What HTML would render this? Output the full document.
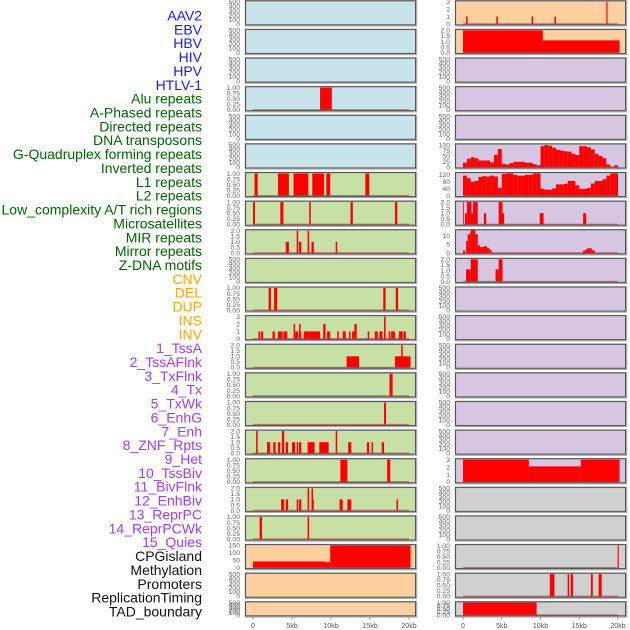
<!DOCTYPE html>
<html><head><meta charset="utf-8">
<style>
html,body{margin:0;padding:0;background:#fff;}
#wrap{position:relative;width:630px;height:630px;overflow:hidden;}
svg{position:absolute;left:0;top:0;}
text{font-family:"Liberation Sans",sans-serif;}
</style></head>
<body>
<div id="wrap">
<svg id="chart" width="630" height="630" viewBox="0 0 630 630"></svg>
</div>
<script>
// ---------- data ----------
const trackLabels = ["AAV2","EBV","HBV","HIV","HPV","HTLV-1","Alu repeats","A-Phased repeats","Directed repeats","DNA transposons","G-Quadruplex forming repeats","Inverted repeats","L1 repeats","L2 repeats","Low_complexity A/T rich regions","Microsatellites","MIR repeats","Mirror repeats","Z-DNA motifs","CNV","DEL","DUP","INS","INV","1_TssA","2_TssAFlnk","3_TxFlnk","4_Tx","5_TxWk","6_EnhG","7_Enh","8_ZNF_Rpts","9_Het","10_TssBiv","11_BivFlnk","12_EnhBiv","13_ReprPC","14_ReprPCWk","15_Quies","CPGisland","Methylation","Promoters","ReplicationTiming","TAD_boundary"];
const labelGroups = [6,13,5,15,5];
const xTicks = [0,5000,10000,15000,20000];
const xTickLabels = ["0","5kb","10kb","15kb","20kb"];

// segments: [startKb, endKb, value]
const left03 = [[8.6,10.1,1]];
const left06 = [[0.2,0.6,1],[3.2,4.6,1],[5.2,7.1,1],[7.6,9.1,1],[9.4,9.9,1],[14.4,14.9,1]];
const left07 = [[0,0.25,1],[3.5,3.9,1],[7.2,7.4,1],[12.5,12.8,1],[18.2,18.5,1]];
const left08 = [[4.2,4.6,1],[5.6,5.8,2],[5.9,6.2,1],[7.0,7.2,2],[7.5,7.8,1],[10.6,10.8,1]];
const left10 = [[2.0,2.3,1],[2.7,3.1,1],[16.7,17.0,1],[18.3,18.6,1]];
const left11 = [[0.7,0.9,1],[1.0,1.3,1],[2.5,2.8,1],[3.2,3.8,1],[3.9,4.4,1],[5.2,5.4,2],[5.4,5.8,1],[5.9,6.1,2],[6.1,6.2,1],[6.5,7.1,1],[7.1,8.6,1],[9.0,9.3,2],[9.5,9.9,1],[10.8,11.0,1],[11.5,11.9,1],[12.3,12.5,1],[12.7,13.0,1],[13.0,13.3,2],[14.7,14.9,1],[15.6,16.0,1],[16.2,16.6,1],[16.8,17.0,3],[17.4,17.6,1],[17.7,18.2,1],[18.7,19.2,1],[19.3,19.6,1]];
const left12 = [[12.0,13.6,1],[18.2,20.2,1],[19.0,19.2,2]];
const left13 = [[17.5,17.9,1]];
const left14 = [[16.8,17.05,1]];
const left15 = [[0.4,0.6,2],[1.8,2.2,1],[2.6,2.9,1],[3.2,3.5,1],[3.7,4.0,2],[4.2,4.5,1],[5.0,5.4,1],[5.6,5.8,1],[5.9,6.2,1],[7.0,7.9,1],[8.5,9.7,1],[10.6,10.8,2],[12.2,12.6,1],[14.6,14.9,1],[15.2,15.4,1],[16.5,16.8,1]];
const left16 = [[11.2,12.1,1],[17.2,17.6,1]];
const left17 = [[3.6,4.0,1],[4.2,4.5,1],[5.6,5.8,1],[5.9,6.2,1],[7.0,7.2,2],[7.5,7.7,2],[7.7,7.8,1],[11.1,11.5,1],[12.1,12.6,1],[18.4,18.6,1]];
const left18 = [[0.85,1.15,1],[7.0,7.2,1]];
const left19 = [[0,9.3,42],[9.3,9.9,38],[9.9,20.2,150]];

const right00 = [[0.4,0.6,1],[4.3,4.5,1],[8.85,9.05,1],[11.8,12.0,1],[18.5,18.65,3]];
const right01 = [[0,10.3,2],[10.3,20.2,1.1]];
const right05Bins = [20,38,45,40,30,30,30,22,55,82,15,12,18,24,24,24,20,20,13,8,95,100,97,88,78,75,72,70,60,55,95,95,90,80,60,50,40,12,0,8];
const right06Bins = [115,100,80,85,108,112,110,115,110,45,125,128,128,120,115,115,120,120,128,128,40,35,35,42,65,65,68,85,85,60,40,40,45,70,85,85,95,115,128,128];
const right07 = [[0,0.1,2],[0.25,0.5,1],[0.5,1.1,2],[1.1,1.3,1],[1.3,1.9,2],[2.7,3.0,1],[4.6,5.1,2],[5.1,5.3,1],[9.9,10.4,1],[15.5,15.9,1]];
const right08 = [[0,0.25,1.5],[0.4,0.6,7],[0.6,0.9,11],[0.9,1.0,12],[1.0,1.6,13.5],[1.6,1.9,11],[1.9,2.2,4.5],[2.2,2.7,3.5],[2.7,3.1,4],[3.1,3.4,3],[3.4,3.7,1.8],[15.5,15.9,1.5],[15.9,16.2,2.5],[16.2,16.6,2.8],[16.6,17.0,1.5]];
const right09 = [[0.4,1.0,1.1],[1.0,1.9,2],[4.2,4.6,1.1],[4.6,5.1,2]];
const right16 = [[0,8.5,3],[8.5,15.2,2.1],[15.2,20.2,3]];
const right19 = [[19.95,20.1,1]];
const right20 = [[11.2,11.8,1],[13.5,13.7,1],[13.9,14.2,1],[16.5,16.75,1],[17.5,17.9,1]];
const right21 = [[0,9.5,1]];

const emptyTicks = [0,100,200,300,400,500];
const unitTicks = [0,0.25,0.5,0.75,1];
const twoTicks = [0,0.5,1,1.5,2];
const threeTicks = [0,1,2,3];

// ---------- helpers ----------
const svg = document.getElementById('chart');
const NS = 'http://www.w3.org/2000/svg';
function mk(tag, attrs, parent){
  const e = document.createElementNS(NS, tag);
  for (const k in attrs) e.setAttribute(k, attrs[k]);
  (parent||svg).appendChild(e);
  return e;
}
function binsToSegs(b){ return b.map((v,i)=>[i*0.5, i*0.5+0.5, v]); }
function fmt(t, ticks){
  const mx = ticks[ticks.length-1];
  const dec = mx<=1.0001 ? 2 : (ticks.some(v=>v%1!==0) ? 1 : 0);
  return t.toFixed(dec);
}

const BLUE='#c8e3ea', GREEN='#c8e0a6', ORANGE='#fecf9f', PURPLE='#d6c6e2', GRAY='#d0d0d0';
const colLeft = {x:245, w:171, x0:253, x1:409, tx:240};
const colRight = {x:455, w:171, x0:463, x1:618, tx:450};

const leftPanels = [
 {bg:BLUE},{bg:BLUE},{bg:BLUE},
 {bg:BLUE,ymax:1.02,ticks:unitTicks,segs:left03},
 {bg:BLUE},{bg:BLUE},
 {bg:GREEN,ymax:1.02,ticks:unitTicks,segs:left06},
 {bg:GREEN,ymax:1.02,ticks:unitTicks,segs:left07},
 {bg:GREEN,ymax:2.04,ticks:twoTicks,segs:left08},
 {bg:GREEN},
 {bg:GREEN,ymax:1.02,ticks:unitTicks,segs:left10},
 {bg:GREEN,ymax:3.06,ticks:threeTicks,segs:left11},
 {bg:GREEN,ymax:2.04,ticks:twoTicks,segs:left12},
 {bg:GREEN,ymax:1.02,ticks:unitTicks,segs:left13},
 {bg:GREEN,ymax:1.02,ticks:unitTicks,segs:left14},
 {bg:GREEN,ymax:2.04,ticks:twoTicks,segs:left15},
 {bg:GREEN,ymax:1.02,ticks:unitTicks,segs:left16},
 {bg:GREEN,ymax:2.04,ticks:twoTicks,segs:left17},
 {bg:GREEN,ymax:1.02,ticks:unitTicks,segs:left18},
 {bg:ORANGE,ymax:152,ticks:[0,50,100,150],segs:left19},
 {bg:ORANGE},{bg:ORANGE,short:true}
];
const rightPanels = [
 {bg:ORANGE,ymax:3.06,ticks:threeTicks,segs:right00},
 {bg:ORANGE,ymax:2.04,ticks:twoTicks,segs:right01},
 {bg:PURPLE},{bg:PURPLE},{bg:PURPLE},
 {bg:PURPLE,ymax:103,ticks:[0,25,50,75,100],segs:binsToSegs(right05Bins)},
 {bg:PURPLE,ymax:130,ticks:[0,40,80,120],segs:binsToSegs(right06Bins)},
 {bg:PURPLE,ymax:2.04,ticks:twoTicks,segs:right07},
 {bg:PURPLE,ymax:13.3,ticks:[0,5,10],segs:right08},
 {bg:PURPLE,ymax:2.04,ticks:twoTicks,segs:right09},
 {bg:PURPLE},{bg:PURPLE},{bg:PURPLE},{bg:PURPLE},{bg:PURPLE},{bg:PURPLE},
 {bg:PURPLE,ymax:3.06,ticks:threeTicks,segs:right16},
 {bg:GRAY},{bg:GRAY},
 {bg:GRAY,ymax:1.02,ticks:unitTicks,segs:right19},
 {bg:GRAY,ymax:1.02,ticks:unitTicks,segs:right20},
 {bg:GRAY,ymax:1.02,ticks:unitTicks,segs:right21,short:true}
];

function drawPanel(col, p, i, side){
  const T = 0.3 + 28.62*i;
  const H = p.short ? 15 : 25;
  const g = mk('g', {});
  
  
  const bg = mk('rect', {x:col.x+0.5, y:T+0.5, width:col.w, height:H, fill:p.bg, stroke:'#aaa', 'stroke-width':1.5}, g);
  
  
  const ymax = p.ymax || 510;
  const ticks = p.ticks || emptyTicks;
  const y = v => T + H - 1.3 - v/ymax*(H-2.3);
  const x = kb => col.x0 + (kb*1000)/20000*(col.x1-col.x0);
  ticks.forEach(t=>{
    const tl = mk('text', {x:col.tx, y:y(t)+2.3, 'font-size':6.8, fill:'#666', 'text-anchor':'end'}, g);
    
    
    tl.textContent = fmt(t, ticks);
  });
  if (p.segs){
    p.segs.forEach(s=>{
      if (s[2]<=0) return;
      const r = mk('rect', {x:x(s[0]), y:y(s[2]), width:Math.max(0.8, x(s[1])-x(s[0])), height:y(0)-y(s[2]), fill:'#ff0000'}, g);
      
      
    });
    const bl = mk('line', {x1:x(0), x2:x(20), y1:y(0), y2:y(0), stroke:'#b03030', 'stroke-opacity':0.6, 'stroke-width':1.5}, g);
    
    
  }
  const fr = mk('rect', {x:col.x+0.5, y:T+0.5, width:col.w-1, height:H-1, fill:'none', stroke:'#555', 'stroke-width':1}, g);
  
  
}
leftPanels.forEach((p,i)=>drawPanel(colLeft,p,i,'left'));
rightPanels.forEach((p,i)=>drawPanel(colRight,p,i,'right'));

[colLeft,colRight].forEach((col,ci)=>{
  xTicks.forEach((t,j)=>{
    const xx = col.x0 + t/20000*(col.x1-col.x0);
    const tk = mk('line', {x1:xx, x2:xx, y1:617.5, y2:619.5, stroke:'#666', 'stroke-width':0.8});
    
    
    const tl = mk('text', {x:xx, y:628, 'font-size':7, fill:'#555', 'text-anchor':'middle'});
    
    
    tl.textContent = xTickLabels[j];
  });
});

const groupColors = ['#1a1aff','#006400','#ffa500','#a23cf0','#111111'];
let gi = 0, cnt = 0;
trackLabels.forEach((lab,i)=>{
  if (cnt >= labelGroups[gi]) { gi++; cnt = 0; }
  cnt++;
  const t = mk('text', {x:202, y:20.5 + i*13.86, 'font-size':14, fill:groupColors[gi], 'text-anchor':'end', 'font-family':'"Liberation Sans", sans-serif'});
  
  
  t.textContent = lab;
});
</script>
</body></html>
